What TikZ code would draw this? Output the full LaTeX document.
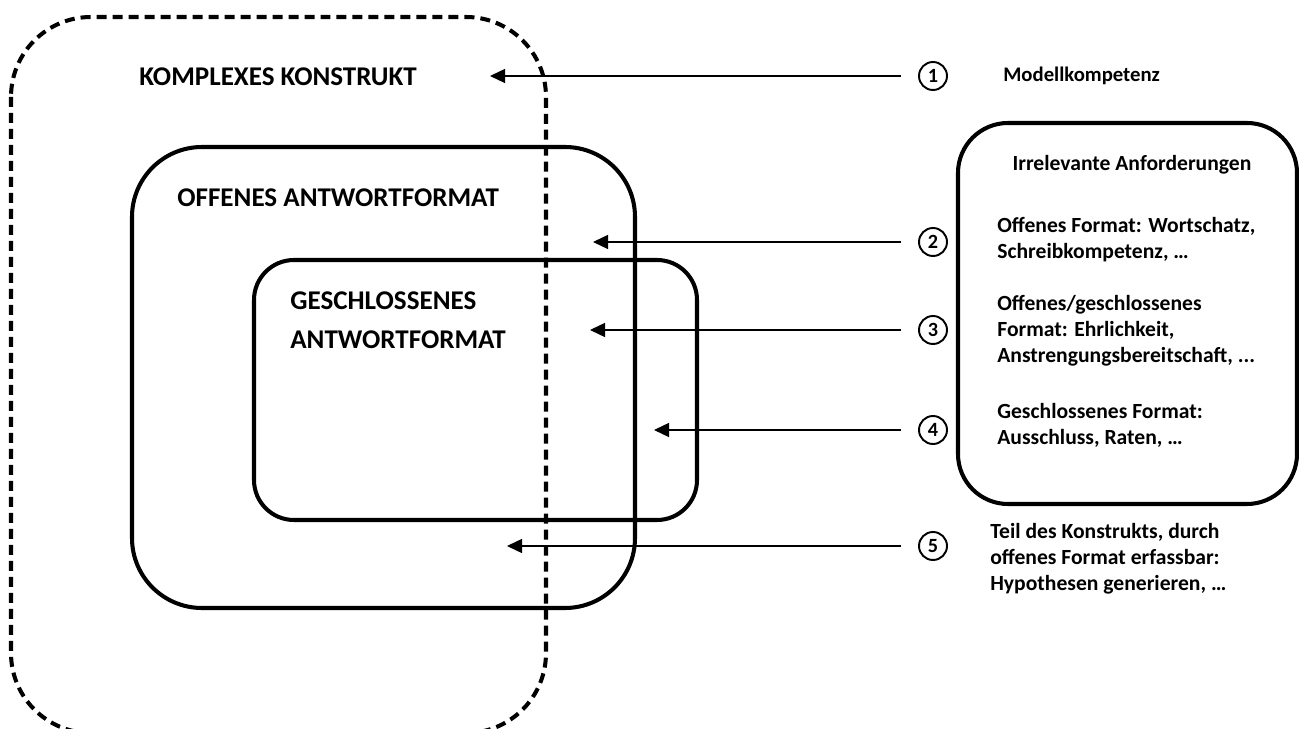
\documentclass[tikz,border=0pt]{standalone}
\usepackage{fontspec}
\setmainfont{Carlito}
\usetikzlibrary{arrows.meta}
\tikzset{
  frame/.style={line width=2.3pt, rounded corners=#1},
  pointer/.style={line width=0.8pt, -{Triangle[length=0.3cm,width=0.28cm]}, shorten <=0.34cm},
  num/.style={circle, draw, line width=1.1pt, minimum size=0.56cm, inner sep=0pt, font=\bfseries\fontsize{11.5}{12}\selectfont},
  big/.style={inner sep=0pt, anchor=west, align=left, font=\bfseries\fontsize{15.4}{22.1}\selectfont},
  small/.style={inner sep=0pt, anchor=west, align=left, font=\bfseries\fontsize{12.3}{14.7}\selectfont}
}
\begin{document}
\begin{tikzpicture}[x={(0.02cm,0)}, y={(0,-0.02cm)}]
\useasboundingbox (0,0) rectangle (1299,729);
% the three fields
\draw[frame=1.6cm, dashed, dash pattern=on 0.2cm off 0.12cm] (11,17) rectangle (546,733);
\draw[frame=1.4cm] (132,147) rectangle (635,608);
\draw[frame=0.8cm] (254,260) rectangle (697,520);
\draw[frame=1.0cm] (958,123) rectangle (1297,504);
\node[big] (konstrukt) at (139,77) {KOMPLEXES KONSTRUKT};
\node[big] (offen) at (177,198) {OFFENES ANTWORTFORMAT};
\node[big] (geschl) at (290,320) {GESCHLOSSENES\\ANTWORTFORMAT};
% numbers and arrows
\node[num] (c1) at (933,76) {1};
\node[num] (c2) at (933,242) {2};
\node[num] (c3) at (933,330) {3};
\node[num] (c4) at (933,430) {4};
\node[num] (c5) at (933,546) {5};
\coordinate (t1) at (490,76);
\coordinate (t2) at (593,242);
\coordinate (t3) at (590,330);
\coordinate (t4) at (654,430);
\coordinate (t5) at (507,546);
\foreach \i in {1,...,5}
  \draw[pointer] (c\i) -- (t\i);
% texts on the right
\node[small, font=\bfseries\fontsize{11.8}{14}\selectfont] (modell) at (1003,76) {Modellkompetenz};
\node[small, anchor=center] (irr) at (1132,165) {Irrelevante Anforderungen};
\node[small] (txt2) at (997,240) {Offenes Format: Wortschatz,\\Schreibkompetenz, …};
\node[small] (txt3) at (997,331) {Offenes/geschlossenes\\Format: Ehrlichkeit,\\Anstrengungsbereitschaft, ...};
\node[small] (txt4) at (997,425) {Geschlossenes Format:\\Ausschluss, Raten, …};
\node[small] (txt5) at (990,559) {Teil des Konstrukts, durch\\offenes Format erfassbar:\\Hypothesen generieren, …};
\end{tikzpicture}
\end{document}
